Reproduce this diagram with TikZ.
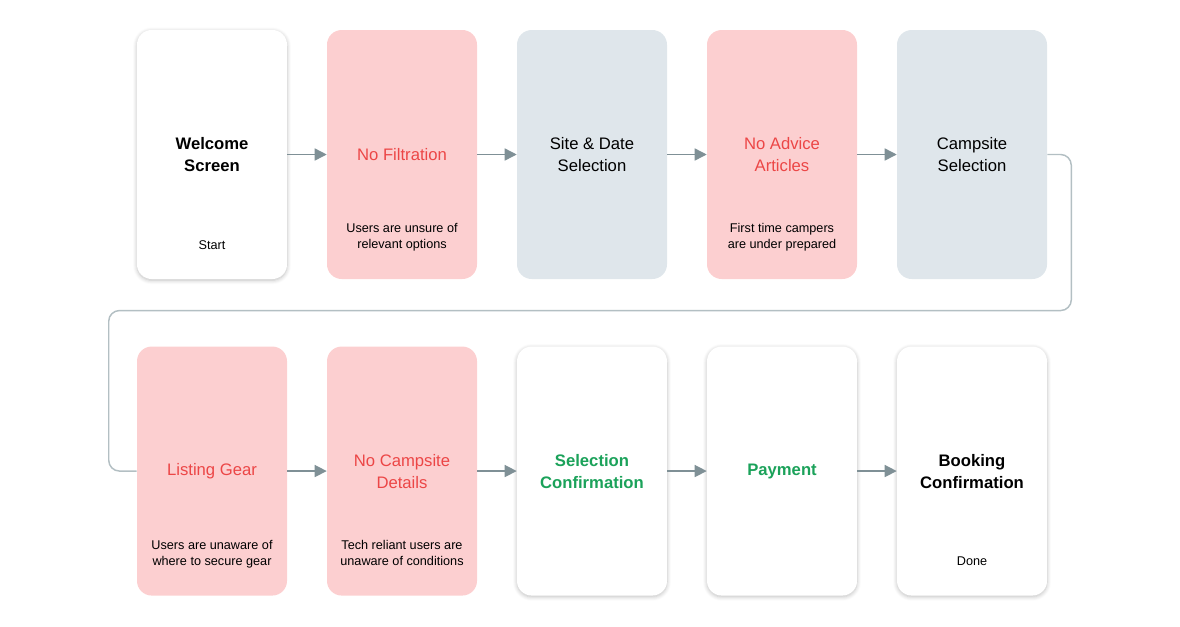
\documentclass[tikz,border=0pt]{standalone}
\usepackage{fontspec}
\setmainfont{Liberation Sans}
\usepackage{xcolor}
\usetikzlibrary{arrows.meta,positioning,calc,shadows.blur}

\definecolor{pinkfill}{HTML}{FCCFD0}
\definecolor{greyfill}{HTML}{DFE6EB}
\definecolor{redtext}{HTML}{EC4646}
\definecolor{greentext}{HTML}{1BA25A}
\definecolor{arrowgrey}{HTML}{7F9096}
\definecolor{loopgrey}{HTML}{B3BFC3}

\begin{document}
\begin{tikzpicture}[
  x=0.75pt, y=-0.75pt,
  font=\fontsize{12.5pt}{16.5pt}\selectfont,
  node distance=29.6pt and 29.6pt,
  card/.style={rounded corners=11pt, minimum width=112.5pt, minimum height=186.75pt, align=center, inner sep=0pt},
  plain/.style={card, fill=white, blur shadow={shadow xshift=0pt, shadow yshift=-1pt, shadow blur steps=6, shadow opacity=25, shadow blur radius=3pt}},
  issue/.style={card, fill=pinkfill, text=redtext},
  stage/.style={card, fill=greyfill},
  note/.style={font=\fontsize{9.5pt}{12pt}\selectfont, align=center, anchor=south, inner sep=0pt, text depth=2.5pt},
  arr/.style={-{Triangle[length=9pt,width=9pt]}, line width=1.1pt, draw=arrowgrey},
  loopline/.style={line width=1.1pt, draw=loopgrey, rounded corners=8pt}
]
\useasboundingbox (0,0) rectangle (1180,626);

% top row
\node[plain] (welcome) at (212,154.5) {\textbf{Welcome}\\\textbf{Screen}};
\node[issue, right=of welcome] (filter) {No Filtration};
\node[stage, right=of filter] (sitedate) {Site \& Date\\Selection};
\node[issue, right=of sitedate] (advice) {No Advice\\Articles};
\node[stage, right=of advice] (campsite) {Campsite\\Selection};

% bottom row
\node[issue, below=50.25pt of welcome] (gear) {Listing Gear};
\node[issue, right=of gear] (details) {No Campsite\\Details};
\node[plain, text=greentext, right=of details] (selconf) {\textbf{Selection}\\\textbf{Confirmation}};
\node[plain, text=greentext, right=of selconf] (payment) {\textbf{Payment}};
\node[plain, right=of payment] (booking) {\textbf{Booking}\\\textbf{Confirmation}};

% notes
\node[note] (startnote) at ($(welcome.south)+(0,-26)$) {Start};
\node[note] (filternote) at ($(filter.south)+(0,-27)$) {Users are unsure of\\relevant options};
\node[note] (advicenote) at ($(advice.south)+(0,-27)$) {First time campers\\are under prepared};
\node[note] (gearnote) at ($(gear.south)+(0,-27)$) {Users are unaware of\\where to secure gear};
\node[note] (detailsnote) at ($(details.south)+(0,-27)$) {Tech reliant users are\\unaware of conditions};
\node[note] (donenote) at ($(booking.south)+(0,-27)$) {Done};

% connectors
\draw[arr] (welcome) -- (filter);
\draw[arr] (filter) -- (sitedate);
\draw[arr] (sitedate) -- (advice);
\draw[arr] (advice) -- (campsite);
\coordinate (turn) at ($(gear.west)+(-28,-160.5)$);
\draw[loopline] (campsite.east) -- ++(24,0) |- (turn) |- (gear.west);
\draw[arr] (gear) -- (details);
\draw[arr] (details) -- (selconf);
\draw[arr] (selconf) -- (payment);
\draw[arr] (payment) -- (booking);
\end{tikzpicture}
\end{document}
